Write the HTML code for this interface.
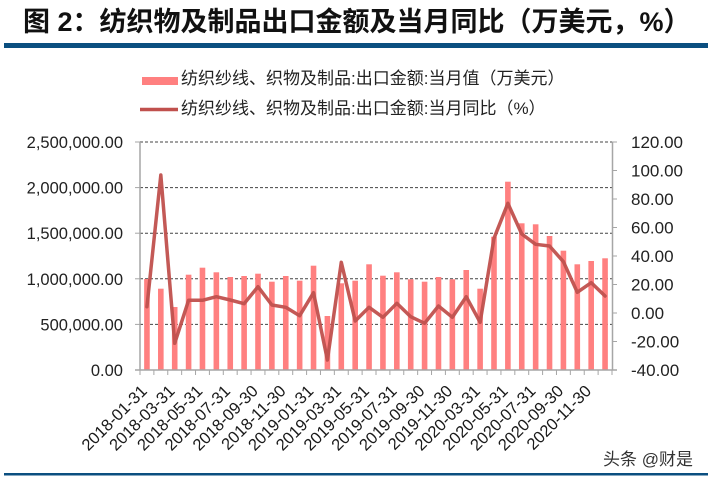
<!DOCTYPE html>
<html><head><meta charset="utf-8"><style>
html,body{margin:0;padding:0;background:#fff;}
svg{display:block;}
text{font-family:"Liberation Sans","Noto Sans CJK SC",sans-serif;}
</style></head><body>
<svg width="710" height="481" viewBox="0 0 710 481" xmlns="http://www.w3.org/2000/svg">
<rect width="710" height="481" fill="#fff"/>
<!-- title -->
<text x="23" y="31" font-size="27" font-weight="bold" fill="#111">图 2：纺织物及制品出口金额及当月同比（万美元，%）</text>
<rect x="4" y="43" width="704" height="5" fill="#0b4f80"/>
<!-- legend -->
<rect x="142" y="77" width="36" height="8" fill="#ff8080"/>
<text x="181" y="84" font-size="17" fill="#222">纺织纱线、织物及制品:出口金额:当月值（万美元）</text>
<line x1="140" y1="109.5" x2="178" y2="109.5" stroke="#c0504d" stroke-width="3.5"/>
<text x="181" y="114" font-size="17" fill="#222">纺织纱线、织物及制品:出口金额:当月同比（%）</text>
<!-- gridlines -->
<g stroke="#444" stroke-width="1" stroke-dasharray="3,2">
<line x1="140" y1="142" x2="612" y2="142"/>
<line x1="140" y1="187.6" x2="612" y2="187.6"/>
<line x1="140" y1="233.2" x2="612" y2="233.2"/>
<line x1="140" y1="278.8" x2="612" y2="278.8"/>
<line x1="140" y1="324.4" x2="612" y2="324.4"/>
</g>
<!-- bars -->
<g fill="#ff8080">
<rect x="144.14" y="279" width="5.6" height="91"/>
<rect x="158.02" y="288.7" width="5.6" height="81.3"/>
<rect x="171.91" y="307" width="5.6" height="63"/>
<rect x="185.79" y="274.7" width="5.6" height="95.3"/>
<rect x="199.67" y="267.7" width="5.6" height="102.3"/>
<rect x="213.55" y="272.3" width="5.6" height="97.7"/>
<rect x="227.44" y="277" width="5.6" height="93"/>
<rect x="241.32" y="276" width="5.6" height="94"/>
<rect x="255.2" y="273.7" width="5.6" height="96.3"/>
<rect x="269.08" y="281.7" width="5.6" height="88.3"/>
<rect x="282.96" y="276" width="5.6" height="94"/>
<rect x="296.85" y="280.7" width="5.6" height="89.3"/>
<rect x="310.73" y="265.7" width="5.6" height="104.3"/>
<rect x="324.61" y="316" width="5.6" height="54"/>
<rect x="338.49" y="283.3" width="5.6" height="86.7"/>
<rect x="352.38" y="280.7" width="5.6" height="89.3"/>
<rect x="366.26" y="264.3" width="5.6" height="105.7"/>
<rect x="380.14" y="275.7" width="5.6" height="94.3"/>
<rect x="394.02" y="272.3" width="5.6" height="97.7"/>
<rect x="407.91" y="279.3" width="5.6" height="90.7"/>
<rect x="421.79" y="281.7" width="5.6" height="88.3"/>
<rect x="435.67" y="277" width="5.6" height="93"/>
<rect x="449.55" y="279.3" width="5.6" height="90.7"/>
<rect x="463.44" y="270" width="5.6" height="100"/>
<rect x="477.32" y="288.7" width="5.6" height="81.3"/>
<rect x="491.2" y="236.7" width="5.6" height="133.3"/>
<rect x="505.08" y="181.7" width="5.6" height="188.3"/>
<rect x="518.96" y="223.3" width="5.6" height="146.7"/>
<rect x="532.85" y="224.3" width="5.6" height="145.7"/>
<rect x="546.73" y="236" width="5.6" height="134"/>
<rect x="560.61" y="250.7" width="5.6" height="119.3"/>
<rect x="574.49" y="264.3" width="5.6" height="105.7"/>
<rect x="588.38" y="261" width="5.6" height="109"/>
<rect x="602.26" y="258.3" width="5.6" height="111.7"/>
</g>
<!-- line -->
<polyline fill="none" stroke="#c0504d" stroke-width="3.5" stroke-linejoin="round" stroke-linecap="round" stroke-opacity="0.95"
points="146.94,306.7 160.82,175 174.71,343.3 188.59,300.3 202.47,300.3 216.35,296.7 230.24,300 244.12,303.7 258,286.7 271.88,305 285.76,307.3 299.65,315.7 313.53,292.7 327.41,360 341.29,262.3 355.18,321 369.06,307.3 382.94,317.3 396.82,303.3 410.71,316.7 424.59,323.3 438.47,306 452.35,317.3 466.24,296.7 480.12,322.3 494,238.3 507.88,203.3 521.76,234 535.65,244.3 549.53,246 563.41,261.7 577.29,292.3 591.18,282.7 605.06,296"/>
<!-- axes -->
<g stroke="#a6a6a6" stroke-width="1.5" fill="none">
<line x1="140" y1="142" x2="140" y2="370"/>
<line x1="612.5" y1="142" x2="612.5" y2="370"/>
<line x1="135" y1="370" x2="617" y2="370"/>
</g>
<g stroke="#a6a6a6" stroke-width="1">
<line x1="135" y1="142" x2="140" y2="142"/>
<line x1="135" y1="187.6" x2="140" y2="187.6"/>
<line x1="135" y1="233.2" x2="140" y2="233.2"/>
<line x1="135" y1="278.8" x2="140" y2="278.8"/>
<line x1="135" y1="324.4" x2="140" y2="324.4"/>
<line x1="612" y1="142" x2="617" y2="142"/>
<line x1="612" y1="170.5" x2="617" y2="170.5"/>
<line x1="612" y1="199" x2="617" y2="199"/>
<line x1="612" y1="227.5" x2="617" y2="227.5"/>
<line x1="612" y1="256" x2="617" y2="256"/>
<line x1="612" y1="284.5" x2="617" y2="284.5"/>
<line x1="612" y1="313" x2="617" y2="313"/>
<line x1="612" y1="341.5" x2="617" y2="341.5"/>
<line x1="140" y1="370" x2="140" y2="375"/>
<line x1="153.88" y1="370" x2="153.88" y2="375"/>
<line x1="167.76" y1="370" x2="167.76" y2="375"/>
<line x1="181.65" y1="370" x2="181.65" y2="375"/>
<line x1="195.53" y1="370" x2="195.53" y2="375"/>
<line x1="209.41" y1="370" x2="209.41" y2="375"/>
<line x1="223.29" y1="370" x2="223.29" y2="375"/>
<line x1="237.18" y1="370" x2="237.18" y2="375"/>
<line x1="251.06" y1="370" x2="251.06" y2="375"/>
<line x1="264.94" y1="370" x2="264.94" y2="375"/>
<line x1="278.82" y1="370" x2="278.82" y2="375"/>
<line x1="292.71" y1="370" x2="292.71" y2="375"/>
<line x1="306.59" y1="370" x2="306.59" y2="375"/>
<line x1="320.47" y1="370" x2="320.47" y2="375"/>
<line x1="334.35" y1="370" x2="334.35" y2="375"/>
<line x1="348.24" y1="370" x2="348.24" y2="375"/>
<line x1="362.12" y1="370" x2="362.12" y2="375"/>
<line x1="376" y1="370" x2="376" y2="375"/>
<line x1="389.88" y1="370" x2="389.88" y2="375"/>
<line x1="403.76" y1="370" x2="403.76" y2="375"/>
<line x1="417.65" y1="370" x2="417.65" y2="375"/>
<line x1="431.53" y1="370" x2="431.53" y2="375"/>
<line x1="445.41" y1="370" x2="445.41" y2="375"/>
<line x1="459.29" y1="370" x2="459.29" y2="375"/>
<line x1="473.18" y1="370" x2="473.18" y2="375"/>
<line x1="487.06" y1="370" x2="487.06" y2="375"/>
<line x1="500.94" y1="370" x2="500.94" y2="375"/>
<line x1="514.82" y1="370" x2="514.82" y2="375"/>
<line x1="528.71" y1="370" x2="528.71" y2="375"/>
<line x1="542.59" y1="370" x2="542.59" y2="375"/>
<line x1="556.47" y1="370" x2="556.47" y2="375"/>
<line x1="570.35" y1="370" x2="570.35" y2="375"/>
<line x1="584.24" y1="370" x2="584.24" y2="375"/>
<line x1="598.12" y1="370" x2="598.12" y2="375"/>
<line x1="612" y1="370" x2="612" y2="375"/>
</g>
<!-- left labels -->
<g font-size="16.5" fill="#222" text-anchor="end">
<text x="123" y="148">2,500,000.00</text>
<text x="123" y="193.6">2,000,000.00</text>
<text x="123" y="239.2">1,500,000.00</text>
<text x="123" y="284.8">1,000,000.00</text>
<text x="123" y="330.4">500,000.00</text>
<text x="123" y="376">0.00</text>
</g>
<!-- right labels -->
<g font-size="17" fill="#222">
<text x="631" y="148">120.00</text>
<text x="631" y="176.5">100.00</text>
<text x="631" y="205">80.00</text>
<text x="631" y="233.5">60.00</text>
<text x="631" y="262">40.00</text>
<text x="631" y="290.5">20.00</text>
<text x="631" y="319">0.00</text>
<text x="631" y="347.5">-20.00</text>
<text x="631" y="376">-40.00</text>
</g>
<!-- x labels -->
<g font-size="16.5" fill="#1a1a1a" text-anchor="end">
<text transform="translate(148,392) rotate(-45)">2018-01-31</text>
<text transform="translate(175.7,392) rotate(-45)">2018-03-31</text>
<text transform="translate(203.5,392) rotate(-45)">2018-05-31</text>
<text transform="translate(231.2,392) rotate(-45)">2018-07-31</text>
<text transform="translate(259,392) rotate(-45)">2018-09-30</text>
<text transform="translate(286.8,392) rotate(-45)">2018-11-30</text>
<text transform="translate(314.5,392) rotate(-45)">2019-01-31</text>
<text transform="translate(342.3,392) rotate(-45)">2019-03-31</text>
<text transform="translate(370.1,392) rotate(-45)">2019-05-31</text>
<text transform="translate(397.8,392) rotate(-45)">2019-07-31</text>
<text transform="translate(425.6,392) rotate(-45)">2019-09-30</text>
<text transform="translate(453.4,392) rotate(-45)">2019-11-30</text>
<text transform="translate(481.1,392) rotate(-45)">2020-03-31</text>
<text transform="translate(508.9,392) rotate(-45)">2020-05-31</text>
<text transform="translate(536.6,392) rotate(-45)">2020-07-31</text>
<text transform="translate(564.4,392) rotate(-45)">2020-09-30</text>
<text transform="translate(592.2,392) rotate(-45)">2020-11-30</text>
</g>
<!-- watermark -->
<text x="603" y="465" font-size="17" fill="#333">头条 @财是</text>
<rect x="4" y="473" width="704" height="2.5" fill="#0b4f80"/>
</svg>
</body></html>
